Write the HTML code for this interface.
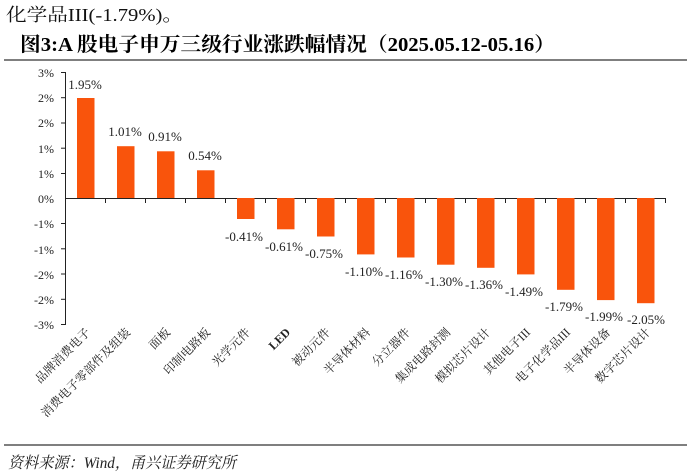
<!DOCTYPE html>
<html><head><meta charset="utf-8"><style>
html,body{margin:0;padding:0;background:#fff;width:691px;height:476px;overflow:hidden}
svg{display:block}
</style></head><body>
<svg width="691" height="476" viewBox="0 0 691 476" xmlns="http://www.w3.org/2000/svg" font-family="'Liberation Serif','Noto Serif CJK SC',serif">
<text x="6" y="21" font-size="18" fill="#111" textLength="177" lengthAdjust="spacingAndGlyphs">化学品III(-1.79%)。</text>
<text x="20" y="51" font-size="20" font-weight="bold" fill="#000" textLength="535" lengthAdjust="spacingAndGlyphs">图3:A 股电子申万三级行业涨跌幅情况（2025.05.12-05.16）</text>
<line x1="4" y1="60" x2="687" y2="60" stroke="#555" stroke-width="1.5"/>
<g font-size="12" fill="#222" text-anchor="end">
<text x="54" y="77">3%</text><text x="54" y="102">2%</text><text x="54" y="127">2%</text><text x="54" y="153">1%</text><text x="54" y="178">1%</text><text x="54" y="203">0%</text><text x="54" y="228">-1%</text><text x="54" y="254">-1%</text><text x="54" y="279">-2%</text><text x="54" y="304">-2%</text><text x="54" y="329">-3%</text>
</g>
<g stroke="#222" stroke-width="1">
<line x1="65.5" y1="72" x2="65.5" y2="325"/>
<line x1="61" y1="72.5" x2="65" y2="72.5"/><line x1="61" y1="97.7" x2="65" y2="97.7"/><line x1="61" y1="123" x2="65" y2="123"/><line x1="61" y1="148.2" x2="65" y2="148.2"/><line x1="61" y1="173.5" x2="65" y2="173.5"/><line x1="61" y1="223.5" x2="65" y2="223.5"/><line x1="61" y1="248.8" x2="65" y2="248.8"/><line x1="61" y1="274" x2="65" y2="274"/><line x1="61" y1="299.3" x2="65" y2="299.3"/><line x1="61" y1="324.5" x2="65" y2="324.5"/>
<line x1="65" y1="198.5" x2="665" y2="198.5"/>
<line x1="105.5" y1="198" x2="105.5" y2="203"/><line x1="145.5" y1="198" x2="145.5" y2="203"/><line x1="185.5" y1="198" x2="185.5" y2="203"/><line x1="225.5" y1="198" x2="225.5" y2="203"/><line x1="265.5" y1="198" x2="265.5" y2="203"/><line x1="305.5" y1="198" x2="305.5" y2="203"/><line x1="345.5" y1="198" x2="345.5" y2="203"/><line x1="385.5" y1="198" x2="385.5" y2="203"/><line x1="425.5" y1="198" x2="425.5" y2="203"/><line x1="465.5" y1="198" x2="465.5" y2="203"/><line x1="505.5" y1="198" x2="505.5" y2="203"/><line x1="545.5" y1="198" x2="545.5" y2="203"/><line x1="585.5" y1="198" x2="585.5" y2="203"/><line x1="625.5" y1="198" x2="625.5" y2="203"/><line x1="665.5" y1="198" x2="665.5" y2="203"/>
</g>
<g fill="#F9540C">
<rect x="77" y="98" width="17.5" height="100"/>
<rect x="117" y="146.2" width="17.5" height="51.8"/>
<rect x="157" y="151.3" width="17.5" height="46.7"/>
<rect x="197" y="170.3" width="17.5" height="27.7"/>
<rect x="237" y="198" width="17.5" height="21"/>
<rect x="277" y="198" width="17.5" height="31.3"/>
<rect x="317" y="198" width="17.5" height="38.5"/>
<rect x="357" y="198" width="17.5" height="56.4"/>
<rect x="397" y="198" width="17.5" height="59.5"/>
<rect x="437" y="198" width="17.5" height="66.7"/>
<rect x="477" y="198" width="17.5" height="69.8"/>
<rect x="517" y="198" width="17.5" height="76.4"/>
<rect x="557" y="198" width="17.5" height="91.8"/>
<rect x="597" y="198" width="17.5" height="102.1"/>
<rect x="637" y="198" width="17.5" height="105.2"/>
</g>
<g font-size="13" fill="#222" text-anchor="middle">
<text x="85" y="89">1.95%</text><text x="125" y="136">1.01%</text><text x="165" y="141">0.91%</text><text x="205" y="160">0.54%</text>
<text x="244" y="241">-0.41%</text><text x="284" y="251">-0.61%</text><text x="324" y="258">-0.75%</text><text x="364" y="276">-1.10%</text><text x="404" y="279">-1.16%</text><text x="444" y="286">-1.30%</text><text x="484" y="289">-1.36%</text><text x="524" y="296">-1.49%</text><text x="564" y="311">-1.79%</text><text x="604" y="321">-1.99%</text><text x="646" y="324">-2.05%</text>
</g>
<g font-size="12" fill="#222" text-anchor="end">
<text transform="translate(91,333) rotate(-45)">品牌消费电子</text>
<text transform="translate(131,333) rotate(-45)">消费电子零部件及组装</text>
<text transform="translate(171,333) rotate(-45)">面板</text>
<text transform="translate(211,333) rotate(-45)">印制电路板</text>
<text transform="translate(251,333) rotate(-45)">光学元件</text>
<text transform="translate(291,333) rotate(-45)" font-weight="bold">LED</text>
<text transform="translate(331,333) rotate(-45)">被动元件</text>
<text transform="translate(371,333) rotate(-45)">半导体材料</text>
<text transform="translate(411,333) rotate(-45)">分立器件</text>
<text transform="translate(451,333) rotate(-45)">集成电路封测</text>
<text transform="translate(491,333) rotate(-45)">模拟芯片设计</text>
<text transform="translate(531,333) rotate(-45)">其他电子III</text>
<text transform="translate(571,333) rotate(-45)">电子化学品III</text>
<text transform="translate(611,333) rotate(-45)">半导体设备</text>
<text transform="translate(651,333) rotate(-45)">数字芯片设计</text>
</g>
<line x1="4" y1="445" x2="687" y2="445" stroke="#555" stroke-width="1.5"/>
<text x="8" y="468" font-size="16" font-style="italic" fill="#222" textLength="228" lengthAdjust="spacingAndGlyphs">资料来源：Wind，甬兴证券研究所</text>
</svg>
</body></html>
